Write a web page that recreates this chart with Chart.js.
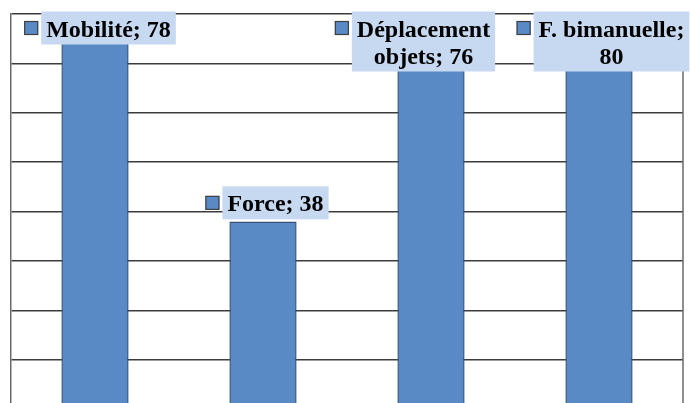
<!DOCTYPE html>
<html>
<head>
<meta charset="utf-8">
<script src="https://cdn.jsdelivr.net/npm/chart.js@4/dist/chart.umd.min.js"></script>
<style>
  html, body { margin: 0; padding: 0; background: #fff; overflow: hidden; }
  #wrap { position: absolute; left: 0; top: 0; width: 690px; height: 420px; }
</style>
</head>
<body>
<div id="wrap"><canvas id="barChart"></canvas></div>
<script>
// values
const categories = ['Mobilité', 'Force', 'Déplacement objets', 'F. bimanuelle'];
const scores = [78, 38, 76, 80];
const yTicks = [0, 10, 20, 30, 40, 50, 60, 70, 80];

const BAR_FILL = '#5a8ac6';
const BAR_EDGE = '#34527a';
const LABEL_BG = '#c6d9f1';
const GRID = '#3c3c3c';

// Excel-style data labels: legend key + "name; value" on a light blue box
const dataLabels = {
    id: 'dataLabels',
    afterDatasetsDraw(chart, args, opts) {
        const ctx = chart.ctx;
        const meta = chart.getDatasetMeta(0);
        ctx.save();
        ctx.font = 'bold 24px "Liberation Serif", "Times New Roman", serif';
        ctx.textBaseline = 'alphabetic';
        ctx.textAlign = 'center';

        meta.data.forEach((bar, i) => {
            const text = chart.data.labels[i] + '; ' + chart.data.datasets[0].data[i];
            const lines = wrap(ctx, text, opts.maxWidth);
            const textW = Math.max(...lines.map(l => ctx.measureText(l).width));
            const boxW = textW + opts.padX * 2;
            const boxH = lines.length * opts.lineHeight + opts.padY * 2;
            const total = opts.key + opts.gap + boxW;

            const cx = bar.x + (opts.offsets[i] || 0);
            let left = cx - total / 2;
            let top = bar.y - 2 - boxH;
            if (top < opts.minTop) top = opts.minTop;

            const boxX = left + opts.key + opts.gap;
            ctx.fillStyle = LABEL_BG;
            ctx.fillRect(boxX, top, boxW, boxH);

            // legend key
            const ky = top + opts.padY + opts.lineHeight / 2 - opts.key / 2;
            ctx.fillStyle = BAR_FILL;
            ctx.fillRect(left, ky, opts.key, opts.key);
            ctx.strokeStyle = '#404040';
            ctx.lineWidth = 1.2;
            ctx.strokeRect(left + 0.5, ky + 0.5, opts.key - 1, opts.key - 1);

            ctx.fillStyle = '#000';
            lines.forEach((l, j) => {
                ctx.fillText(l, boxX + boxW / 2, top + opts.padY + opts.baseline + j * opts.lineHeight);
            });
        });
        ctx.restore();
    }
};

function wrap(ctx, text, maxWidth) {
    const words = text.split(' ');
    const lines = [];
    let cur = '';
    words.forEach(w => {
        const test = cur ? cur + ' ' + w : w;
        if (cur && ctx.measureText(test).width > maxWidth) {
            lines.push(cur);
            cur = w;
        } else {
            cur = test;
        }
    });
    if (cur) lines.push(cur);
    return lines;
}

// right-hand border of the plot area
const plotBorder = {
    id: 'plotBorder',
    beforeDatasetsDraw(chart) {
        const { ctx, chartArea } = chart;
        ctx.save();
        ctx.strokeStyle = '#6a6a6a';
        ctx.lineWidth = 1.5;
        ctx.beginPath();
        ctx.moveTo(chartArea.right, chartArea.top);
        ctx.lineTo(chartArea.right, chartArea.bottom);
        ctx.stroke();
        ctx.restore();
    }
};

new Chart(document.getElementById('barChart').getContext('2d'), {
    type: 'bar',
    data: {
        labels: categories,
        datasets: [{
            data: scores,
            backgroundColor: BAR_FILL,
            borderColor: BAR_EDGE,
            borderWidth: 1.5,
            barPercentage: 0.4,
            categoryPercentage: 1.0,
        }]
    },
    options: {
        responsive: true,
        maintainAspectRatio: false,
        animation: false,
        layout: { padding: { left: 11, right: 7, top: 14, bottom: 11 } },
        plugins: {
            legend: { display: false },
            tooltip: { enabled: false },
            dataLabels: {
                maxWidth: 150,
                padX: 5,
                padY: 3,
                lineHeight: 27,
                baseline: 22,
                key: 14,
                gap: 3,
                minTop: 11.5,
                offsets: [5, 4, -16, 4],
            },
        },
        scales: {
            x: {
                display: false,
            },
            y: {
                min: 0,
                max: 80,
                afterBuildTicks: axis => { axis.ticks = yTicks.map(v => ({ value: v })); },
                ticks: { display: false },
                grid: { color: GRID, lineWidth: 1.5, drawTicks: false },
                border: { display: true, color: '#6a6a6a', width: 1.5 },
            }
        }
    },
    plugins: [plotBorder, dataLabels]
});
</script>
</body>
</html>
